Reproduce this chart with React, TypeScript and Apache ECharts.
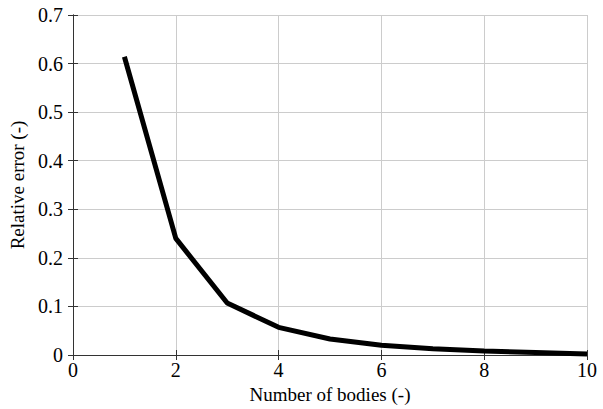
import React, { useEffect, useRef } from "react";
import * as echarts from "echarts";

const bodies = [1, 2, 3, 4, 5, 6, 7, 8, 9, 10];
const relError = [0.614, 0.240, 0.107, 0.057, 0.033, 0.020, 0.013, 0.008, 0.005, 0.002];

const FONT = "Liberation Serif";

export default function App() {
  const ref = useRef<HTMLDivElement>(null);
  useEffect(() => {
    if (!ref.current) return;
    const chart = echarts.init(ref.current, undefined, { renderer: "svg" });
    const axisLine = { show: true, lineStyle: { color: "#333", width: 1 } };
    const tick = { show: true, inside: true, length: 5, lineStyle: { color: "#333" } };
    chart.setOption({
      animation: false,
      backgroundColor: "#fff",
      grid: { left: 73, right: 16, top: 15, bottom: 54, containLabel: false, outerBoundsMode: "none" },
      textStyle: { fontFamily: FONT },
      xAxis: [
        {
          type: "value",
          min: 0,
          max: 10,
          interval: 2,
          name: "Number of bodies (-)",
          nameLocation: "middle",
          nameGap: 29,
          nameTextStyle: { fontFamily: FONT, fontSize: 19, color: "#000" },
          axisLine,
          axisTick: tick,
          axisLabel: { fontFamily: FONT, fontSize: 20, color: "#000", margin: 5 },
          splitLine: { show: true, lineStyle: { color: "#cccccc", width: 1 } },
        },
        {
          type: "value",
          position: "top",
          min: 0,
          max: 10,
          interval: 2,
          axisLine,
          axisTick: tick,
          axisLabel: { show: false },
          splitLine: { show: false },
        },
      ],
      yAxis: [
        {
          type: "value",
          min: 0,
          max: 0.7,
          interval: 0.1,
          name: "Relative error (-)",
          nameLocation: "middle",
          nameGap: 46,
          nameTextStyle: { fontFamily: FONT, fontSize: 19, color: "#000" },
          axisLine,
          axisTick: tick,
          axisLabel: { fontFamily: FONT, fontSize: 20, color: "#000", margin: 10 },
          splitLine: { show: true, lineStyle: { color: "#cccccc", width: 1 } },
        },
        {
          type: "value",
          position: "right",
          min: 0,
          max: 0.7,
          interval: 0.1,
          axisLine,
          axisTick: tick,
          axisLabel: { show: false },
          splitLine: { show: false },
        },
      ],
      series: [
        {
          type: "line",
          data: bodies.map((b, i) => [b, relError[i]]),
          showSymbol: false,
          lineStyle: { color: "#000", width: 5 },
          clip: false,
        },
      ],
    });
    return () => chart.dispose();
  }, []);
  return (
    <div
      ref={ref}
      style={{ position: "fixed", left: 0, top: 0, width: 603, height: 409, overflow: "hidden" }}
    />
  );
}
